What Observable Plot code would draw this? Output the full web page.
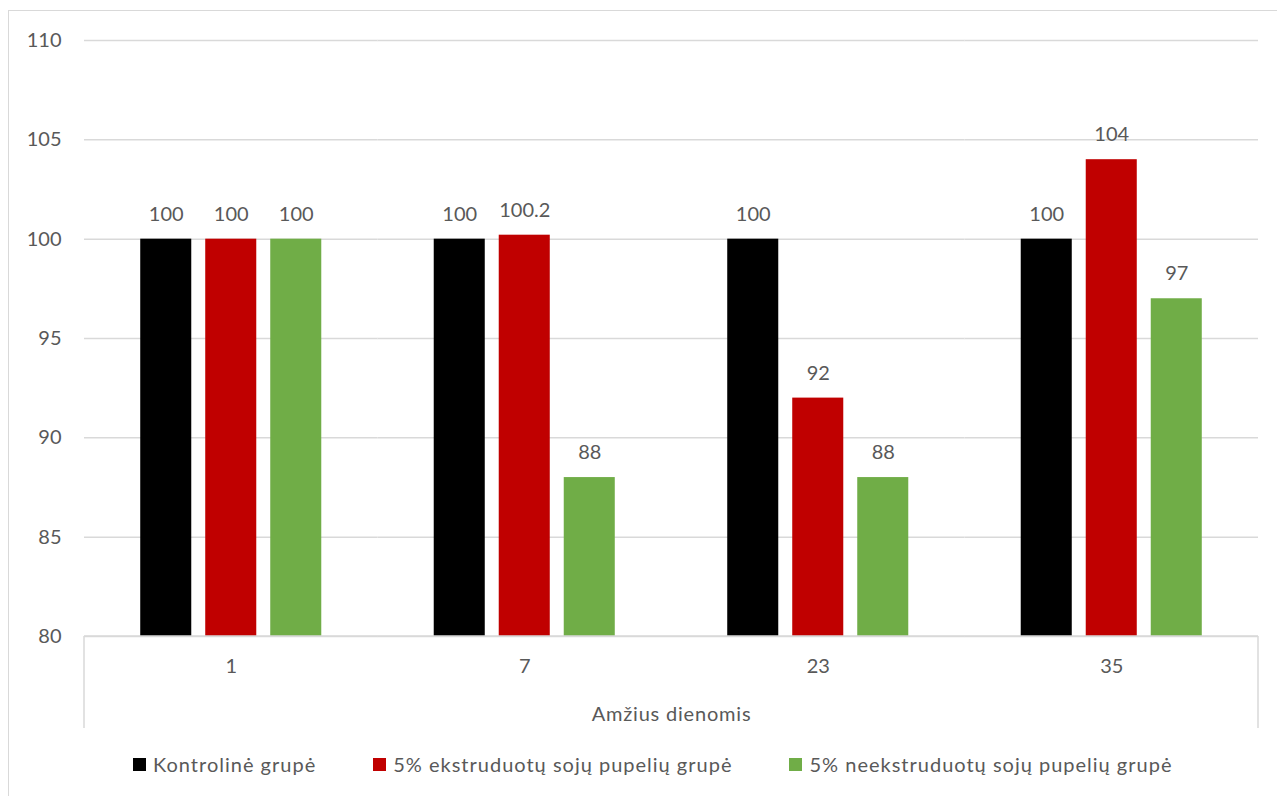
<!DOCTYPE html>
<html>
<head>
<meta charset="utf-8">
<script src="https://cdn.jsdelivr.net/npm/d3@7"></script>
<script src="https://cdn.jsdelivr.net/npm/@observablehq/plot@0.6"></script>
<style>
  html, body { margin: 0; padding: 0; background: #fff; overflow: hidden; }
  body { width: 1277px; height: 796px; position: relative; font-family: Lato, "Open Sans", sans-serif; color: #595959; }
  #frame { position: absolute; left: 8px; top: 10px; width: 1300px; height: 820px; border: 1px solid #d9d9d9; box-sizing: border-box; pointer-events: none; }
  #chart { position: absolute; left: 0; top: 0; }
  #legend { position: absolute; left: 133px; top: 752px; display: flex; align-items: center; gap: 57px; font-size: 20px; letter-spacing: 1.0px; white-space: nowrap; }
  .item { display: flex; align-items: center; gap: 7px; }
  .sw { width: 13px; height: 13px; display: inline-block; }
</style>
</head>
<body>
<div id="chart"></div>
<div id="legend"></div>
<div id="frame"></div>
<script>
const days = ["1", "7", "23", "35"];
const seriesNames = ["Kontrolinė grupė", "5% ekstruduotų sojų pupelių grupė", "5% neekstruduotų sojų pupelių grupė"];
const seriesColors = ["#000000", "#c00000", "#70ad47"];
const control = [100, 100, 100, 100];
const extruded = [100, 100.2, 92, 104];
const nonExtruded = [100, 88, 88, 97];
const yTicks = [80, 85, 90, 95, 100, 105, 110];
const baseline = 80;
const xTitle = "Amžius dienomis";

const seriesValues = [control, extruded, nonExtruded];
const data = [];
days.forEach((d, i) => {
  seriesNames.forEach((s, j) => data.push({day: d, series: s, value: seriesValues[j][i]}));
});

const W = 1277, H = 740;
const mL = 84, mR = 19, mT = 40, mB = 104;

const plot = Plot.plot({
  width: W,
  height: H,
  marginLeft: mL,
  marginRight: mR,
  marginTop: mT,
  marginBottom: mB,
  style: {fontFamily: "Lato, 'Open Sans', sans-serif", fontSize: "20px", color: "#595959", background: "#fff"},
  fx: {domain: days, padding: 0, round: false},
  x: {domain: seriesNames, paddingInner: 0.215, paddingOuter: 0.865, round: false, axis: null},
  y: {domain: [baseline, yTicks[yTicks.length - 1]]},
  color: {domain: seriesNames, range: seriesColors},
  marks: [
    Plot.ruleY(yTicks, {stroke: "#d9d9d9", strokeWidth: 1.5}),
    Plot.barY(data, {fx: "day", x: "series", y1: baseline, y2: "value", fill: "series"}),
    Plot.text(data, {fx: "day", x: "series", y: "value", text: d => String(d.value), dy: -25, fill: "#595959", fontSize: 20}),
    Plot.axisY({ticks: yTicks, tickSize: 0, tickPadding: 23, label: null}),
    Plot.axisFx({anchor: "bottom", tickSize: 0, tickPadding: 22, label: null}),
    Plot.text([xTitle], {frameAnchor: "bottom", dy: 78, fill: "#595959", fontSize: 20, lineAnchor: "middle", facet: "super"})
  ]
});

document.getElementById("chart").appendChild(plot);

// category axis decoration: baseline and outer separators
const svg = d3.select(plot);
const y0 = H - mB;
svg.append("line").attr("x1", mL).attr("x2", W - mR).attr("y1", y0).attr("y2", y0)
  .attr("stroke", "#d9d9d9").attr("stroke-width", 1.5);
[mL, W - mR].forEach(x => {
  svg.append("line").attr("x1", x).attr("x2", x).attr("y1", y0).attr("y2", y0 + 92)
    .attr("stroke", "#d9d9d9").attr("stroke-width", 1.5);
});
svg.selectAll("text").filter(function() { return this.textContent === xTitle; }).attr("letter-spacing", "0.8px");

const legend = document.getElementById("legend");
seriesNames.forEach((s, i) => {
  const it = document.createElement("div");
  it.className = "item";
  const sw = document.createElement("span");
  sw.className = "sw";
  sw.style.background = seriesColors[i];
  const t = document.createElement("span");
  t.textContent = s;
  it.appendChild(sw); it.appendChild(t);
  legend.appendChild(it);
});
</script>
</body>
</html>
